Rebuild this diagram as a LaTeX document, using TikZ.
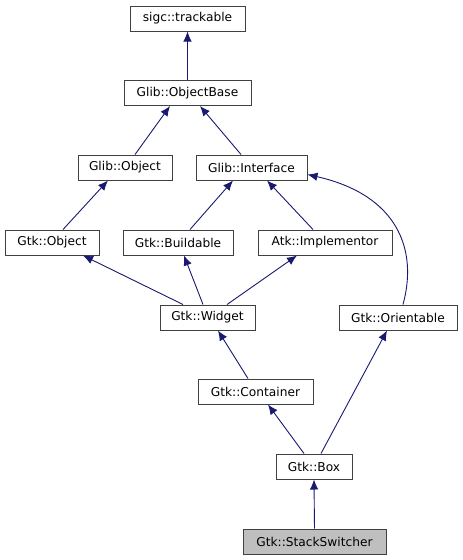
\documentclass[tikz,border=0pt]{standalone}
\usepackage{fontspec}
\setmainfont{DejaVu Sans}
\usetikzlibrary{arrows.meta,calc}
\definecolor{edgeblue}{HTML}{191970}
\definecolor{boxline}{HTML}{404040}
\definecolor{hilite}{HTML}{BFBFBF}
\begin{document}
\begin{tikzpicture}[x=1pt,y=-1pt,
  cls/.style={draw=boxline,line width=1pt,fill=white,minimum height=25pt,inner sep=0pt,
    font=\fontsize{12.2}{14}\selectfont},
  edge/.style={draw=edgeblue,line width=0.9pt,-{Latex[length=10pt,width=8.5pt]}}]
\useasboundingbox (0,0) rectangle (463,560);
\fill[white] (0,0) rectangle (463,560);
\node[cls,minimum width=115pt] (triv) at (187.5,18.5) {sigc::trackable};
\node[cls,minimum width=127pt] (ob) at (187.5,93) {Glib::ObjectBase};
\node[cls,minimum width=94pt] (gobj) at (125,167.5) {Glib::Object};
\node[cls,minimum width=111pt] (gint) at (251.5,167.5) {Glib::Interface};
\node[cls,minimum width=94pt] (gtkobj) at (52,242.5) {Gtk::Object};
\node[cls,minimum width=110pt] (build) at (178,242.5) {Gtk::Buildable};
\node[cls,minimum width=134pt] (impl) at (325,242.5) {Atk::Implementor};
\node[cls,minimum width=95pt] (widget) at (207.5,317.5) {Gtk::Widget};
\node[cls,minimum width=118pt] (orient) at (398,317.5) {Gtk::Orientable};
\node[cls,minimum width=115pt] (cont) at (255.5,391.5) {Gtk::Container};
\node[cls,minimum width=76pt] (box) at (314,466.5) {Gtk::Box};
\node[cls,minimum width=143pt,fill=hilite] (ss) at (314.5,541.5) {Gtk::StackSwitcher};

\draw[edge] (ob.north) -- (triv.south);
\draw[edge] ($(gobj.north)+(10,0)$) -- ($(ob.south)+(-17.5,0)$);
\draw[edge] ($(gint.north)+(-10.5,0)$) -- ($(ob.south)+(12.5,0)$);
\draw[edge] ($(gtkobj.north)+(11,0)$) -- ($(gobj.south)+(-17,0)$);
\draw[edge] ($(build.north)+(12,0)$) -- ($(gint.south)+(-18.5,0)$);
\draw[edge] ($(impl.north)+(-12,0)$) -- ($(gint.south)+(15.5,0)$);
\draw[edge] ($(widget.north)+(-24.5,0)$) -- ($(gtkobj.south)+(31,0)$);
\draw[edge] ($(widget.north)+(-4.5,0)$) -- ($(build.south)+(6,0)$);
\draw[edge] ($(widget.north)+(19.5,0)$) -- ($(impl.south)+(-28,0)$);
\draw[edge] ($(orient.north)+(5,0)$) .. controls (418,250) and (398,195) .. ($(gint.east)+(0,7)$);
\draw[edge] ($(cont.north)+(-7.5,0)$) -- ($(widget.south)+(10.5,0)$);
\draw[edge] ($(box.north)+(-10,0)$) -- ($(cont.south)+(12.5,0)$);
\draw[edge] ($(box.north)+(7,0)$) -- ($(orient.south)+(-11,0)$);
\draw[edge] (ss.north) -- (box.south);
\end{tikzpicture}
\end{document}
